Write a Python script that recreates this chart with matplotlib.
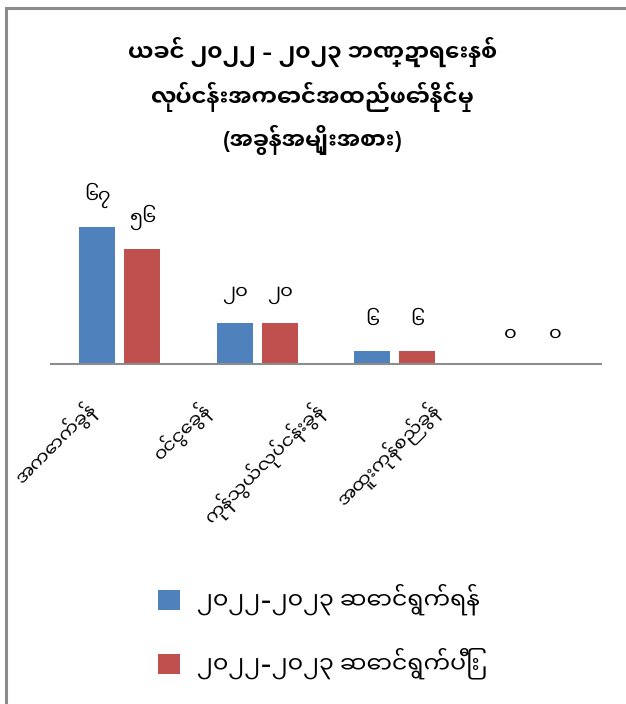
import matplotlib
matplotlib.use("Agg")
import matplotlib.pyplot as plt
from matplotlib.patches import Rectangle
import numpy as np

# ---- data ----
title_lines = ["ယခင် ၂၀၂၂ - ၂၀၂၃ ဘဏ္ဍာရေးနှစ်",
               "လုပ်ငန်းအကောင်အထည်ဖော်နိုင်မှု",
               "(အခွန်အမျိုးအစား)"]
categories = ["အကောက်ခွန်", "ဝင်ငွေခွန်", "ကုန်သွယ်လုပ်ငန်းခွန်", "အထူးကုန်စည်ခွန်"]
series_names = ["၂၀၂၂-၂၀၂၃ ဆောင်ရွက်ရန်", "၂၀၂၂-၂၀၂၃ ဆောင်ရွက်ပြီး"]
planned = [67, 20, 6, 0]
done = [56, 20, 6, 0]
planned_labels = ["၆၇", "၂၀", "၆", "၀"]
done_labels = ["၅၆", "၂၀", "၆", "၀"]
colors = ["#4F81BD", "#C0504D"]

family = ["Noto Sans Myanmar UI", "Myanmar Khyay", "DejaVu Sans"]
plt.rcParams['font.family'] = family

W, H = 626, 704
fig = plt.figure(figsize=(W / 100, H / 100), dpi=100)

# chart border (only top and left visible)
fig.patches.append(Rectangle((6 / W, -0.1), 1.2, 1 - 8 / H + 0.1, transform=fig.transFigure,
                             fill=False, edgecolor="#8c8c8c", linewidth=2.2))

ax = fig.add_axes([51 / W, 1 - 363.5 / H, 550 / W, 180 / H])
x = np.arange(len(categories))
bw = 0.262
gap = 0.065
b1 = ax.bar(x - (bw + gap) / 2, planned, bw, color=colors[0], label=series_names[0])
b2 = ax.bar(x + (bw + gap) / 2, done, bw, color=colors[1], label=series_names[1])
ax.set_xlim(-0.5, len(categories) - 0.5)
ax.set_ylim(0, 88.2)
for s in ["top", "right", "left"]:
    ax.spines[s].set_visible(False)
ax.spines["bottom"].set_color("#8c8c8c")
ax.spines["bottom"].set_linewidth(1.5)
ax.set_yticks([])
ax.set_xticks([])

# category labels, rotated 45 degrees (Excel-like placement)
tr = ax.transAxes
for i, cat in enumerate(categories):
    ax.text(0.061 + 0.2078 * i, -0.19, cat, transform=tr, rotation=45,
            ha="right", va="top", rotation_mode="anchor", fontsize=13.5)

for bars, labs in ((b1, planned_labels), (b2, done_labels)):
    for r, lab in zip(bars, labs):
        ax.annotate(lab, (r.get_x() + r.get_width() / 2, r.get_height()),
                    xytext=(0, 19), textcoords="offset pixels", ha="center", va="bottom",
                    fontsize=14)

for i, (t, yy) in enumerate(zip(title_lines, [52, 97, 140])):
    fig.text(0.5, 1 - yy / H, t, ha="center", va="center", fontsize=16.5, fontweight="bold")

leg = fig.legend(handles=[b1, b2], labels=series_names, loc="upper left",
                 bbox_to_anchor=(137 / W, 1 - 562 / H), frameon=False, fontsize=17,
                 handlelength=0.92, handleheight=0.92, handletextpad=0.72, labelspacing=1.38)

fig.savefig("out.png", dpi=100)
